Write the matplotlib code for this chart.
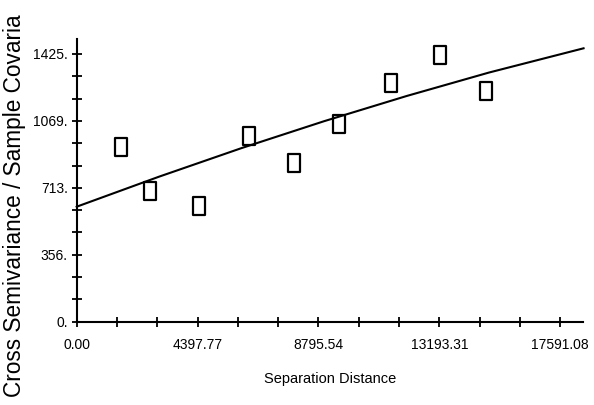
import numpy as np
import matplotlib.pyplot as plt
from matplotlib.path import Path

# empirical cross semivariance (lag distance, value)
lag_dist = [1624, 2679, 4452, 6261, 7911, 9560, 11431, 13200, 14900]
semivar = [932, 696, 617, 988, 846, 1052, 1269, 1420, 1228]

# fitted model curve
model_dist = [0, 3000, 6000, 9000, 12000, 15000, 18440]
model_val = [612, 772, 924, 1067, 1201, 1326, 1455]

xtick_labels = ['0.00', '4397.77', '8795.54', '13193.31', '17591.08']
ytick_labels = ['0.', '356.', '713.', '1069.', '1425.']

fig = plt.figure(figsize=(5.94, 4.05), dpi=100)
ax = fig.add_axes([0.1291, 0.2057, 0.9815 - 0.1291, 0.903 - 0.2057])

# tall hollow box marker like the original
box = Path([(-0.7, -1), (0.7, -1), (0.7, 1), (-0.7, 1), (-0.7, -1)],
           [Path.MOVETO, Path.LINETO, Path.LINETO, Path.LINETO, Path.CLOSEPOLY])
ax.plot(lag_dist, semivar, linestyle='none', marker=box, markersize=12.5,
        markerfacecolor='none', markeredgecolor='black', markeredgewidth=1.6, clip_on=False)
ax.plot(model_dist, model_val, color='black', lw=1.5, clip_on=False)

ax.set_xlim(0, 18420)
ax.set_ylim(0, 1503)
for s in ['top', 'right']:
    ax.spines[s].set_visible(False)
for s in ['left', 'bottom']:
    ax.spines[s].set_linewidth(1.5)

xstep = 17591.08 / 12
ax.set_xticks(np.arange(13) * xstep, minor=True)
ax.set_xticks(np.arange(5) * 3 * xstep)
ax.set_xticklabels(xtick_labels)
ystep = 1425 / 12
ax.set_yticks(np.arange(13) * ystep, minor=True)
ax.set_yticks(np.arange(5) * 3 * ystep)
ax.set_yticklabels(ytick_labels)

ax.tick_params(which='both', direction='inout', length=7, width=1.3, colors='black')
ax.tick_params(axis='x', pad=8)
ax.tick_params(axis='y', pad=3)
for lab in ax.get_xticklabels() + ax.get_yticklabels():
    lab.set_fontfamily('Liberation Sans')
    lab.set_fontsize(10)

ax.set_xlabel('Separation Distance', fontfamily='Liberation Sans', fontsize=10.5, labelpad=15)
# the original label is cut at the top edge, keep the visible part
fig.text(15 / 594, 1 - 397 / 405, 'Cross Semivariance / Sample Covaria',
         rotation=90, ha='center', va='bottom', fontfamily='Liberation Sans', fontsize=16.3)

fig.savefig('out.png', dpi=100)
